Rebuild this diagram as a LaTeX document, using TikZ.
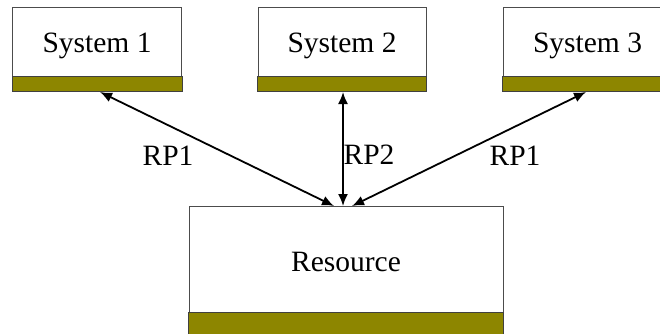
\documentclass[tikz,border=0pt]{standalone}
\usepackage{fontspec}
\setmainfont{Liberation Serif}
\usetikzlibrary{arrows.meta}
\begin{document}
\begin{tikzpicture}[x=1pt,y=-1pt,
  box/.style={draw=black!70, line width=1pt, fill=white, inner sep=0pt,
    font=\fontsize{29.5}{34}\selectfont, text height=21pt, text depth=0pt},
  band/.style={draw=black!75, line width=1pt, fill=olive},
  lbl/.style={font=\fontsize{29.5}{34}\selectfont, inner sep=0pt, anchor=base},
  conn/.style={line width=1.8pt, {Latex[length=12pt,width=10pt]}-{Latex[length=12pt,width=10pt]}}]
\useasboundingbox (0,0) rectangle (660,333);
\clip (0,0) rectangle (660,333);
% systems
\node[box, minimum width=169pt, minimum height=69pt] (s1) at (97,41.5) {System 1};
\node[box, minimum width=168pt, minimum height=69pt] (s2) at (342,41.5) {System 2};
\node[box, minimum width=169pt, minimum height=69pt] (s3) at (587.5,41.5) {System 3};
\draw[band] (s1.south west) rectangle ([yshift=-15pt]s1.south east);
\draw[band] (s2.south west) rectangle ([yshift=-15pt]s2.south east);
\draw[band] (s3.south west) rectangle ([yshift=-15pt]s3.south east);
% resource
\node[box, minimum width=314pt, minimum height=106pt] (res) at (346,259) {\raisebox{-2pt}{Resource}};
\draw[band] (res.south west) rectangle ([yshift=-25pt]res.south east);
% connectors
\coordinate (a1) at (100,92);
\coordinate (a2) at (343,92);
\coordinate (a3) at (586,92);
\coordinate (r1) at (334,206);
\coordinate (r2) at (343,206);
\coordinate (r3) at (352,206);
\draw[conn] (a1) -- (r1);
\draw[conn] (a2) -- (r2);
\draw[conn] (a3) -- (r3);
% labels
\node[lbl] (l1) at (168,165) {RP1};
\node[lbl] (l2) at (369,164) {RP2};
\node[lbl] (l3) at (515,165) {RP1};
\end{tikzpicture}
\end{document}
